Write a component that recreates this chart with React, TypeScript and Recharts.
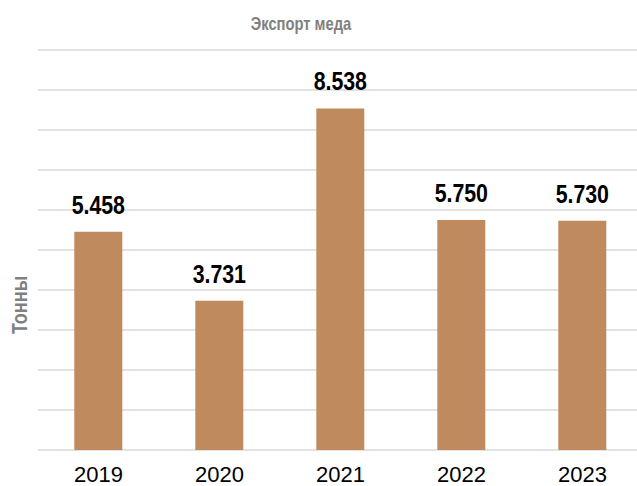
import React from "react";
import { BarChart, Bar, XAxis, YAxis, CartesianGrid, LabelList } from "recharts";

const years = ["2019", "2020", "2021", "2022", "2023"];
const tonnes = [5458, 3731, 8538, 5750, 5730];
const yTicks = [0, 1000, 2000, 3000, 4000, 5000, 6000, 7000, 8000, 9000, 10000];

const data = years.map((year, i) => ({ year, value: tonnes[i] }));

const formatValue = (v: number) => String(v).replace(/\B(?=(\d{3})+(?!\d))/g, ".");

const W = 637;
const H = 486;
// no narrow font installed, so squeeze Liberation Sans horizontally
const NARROW = 0.82;

const ValueLabel = (props: any) => {
    const { x, y, width, value } = props;
    const cx = Number(x) + Number(width) / 2;
    const by = Number(y) - 18;
    return (
        <text
            transform={`translate(${cx},${by}) scale(${NARROW},1)`}
            textAnchor="middle"
            fill="#000"
            fontSize={26}
            fontWeight="bold"
            fontFamily="Liberation Sans"
        >
            {formatValue(Number(value))}
        </text>
    );
};

export default function App() {
    return (
        <div style={{ position: "relative", width: W, height: H, background: "#fff" }}>
            <style>{`body{margin:0}`}</style>
            <BarChart
                width={W}
                height={H}
                data={data}
                margin={{ top: 50, right: -6, bottom: 0, left: 38 }}
                barCategoryGap="30%"
            >
                <CartesianGrid vertical={false} stroke="#d9d9d9" strokeWidth={1.5} />
                <XAxis
                    dataKey="year"
                    height={36}
                    tickLine={false}
                    axisLine={false}
                    tickMargin={10}
                    tick={{ fill: "#000", fontSize: 22, fontFamily: "Liberation Sans" }}
                />
                <YAxis hide domain={[0, 10000]} ticks={yTicks} />
                <Bar dataKey="value" fill="#bf8a5e" isAnimationActive={false}>
                    <LabelList dataKey="value" content={<ValueLabel />} />
                </Bar>
            </BarChart>
            <svg
                width={W}
                height={H}
                style={{ position: "absolute", left: 0, top: 0, pointerEvents: "none" }}
            >
                <text
                    transform={`translate(301,30) scale(${NARROW},1)`}
                    textAnchor="middle"
                    fill="#808080"
                    fontSize={18}
                    fontWeight="bold"
                    fontFamily="Liberation Sans"
                >
                    Экспорт меда
                </text>
                <text
                    transform={`translate(27,305) rotate(-90) scale(${NARROW},1)`}
                    textAnchor="middle"
                    fill="#808080"
                    fontSize={22}
                    fontWeight="bold"
                    fontFamily="Liberation Sans"
                >
                    Тонны
                </text>
            </svg>
        </div>
    );
}
